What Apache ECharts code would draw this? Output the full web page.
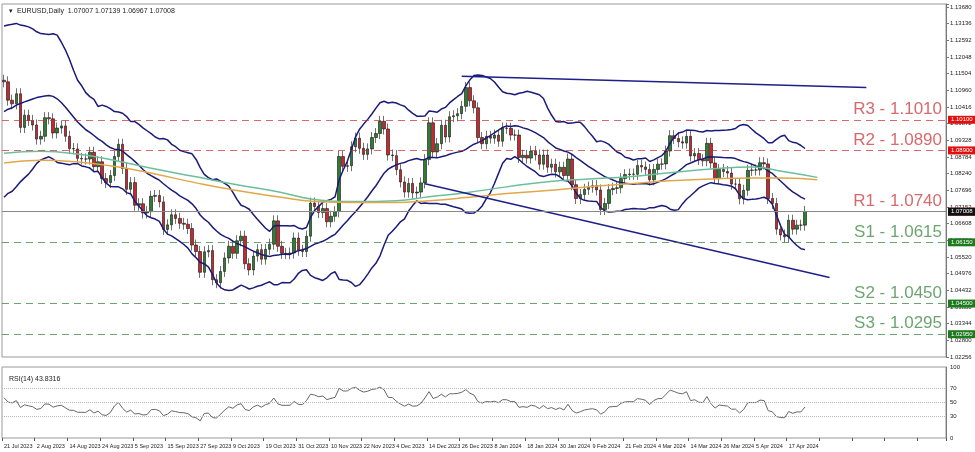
<!DOCTYPE html>
<html>
<head>
<meta charset="utf-8">
<script src="https://cdn.jsdelivr.net/npm/echarts@6/dist/echarts.min.js"></script>
<style>html,body{margin:0;padding:0;background:#fff}#chart{width:975px;height:452px}</style>
</head>
<body>
<div id="chart"></div>
<script>
// daily closes, 21 Jul 2023 .. 23 Apr 2024 (25 Dec has a bar, 1 Jan has none)
var closes = [
  1.1124,1.1064,1.1052,1.1085,1.0975,1.1015,1.0998,
  1.0983,1.0937,1.0946,1.1007,1.1003,1.0957,1.0973,1.0980,1.0946,1.0906,1.0905,1.0874,1.0872,1.0872,1.0894,1.0847,1.0863,1.0808,1.0795,1.0818,1.0880,1.0920,1.0841,
  1.0773,1.0795,1.0721,1.0726,1.0696,1.0700,1.0750,1.0753,1.0732,1.0642,1.0657,1.0690,1.0678,1.0662,1.0659,1.0645,1.0591,1.0570,1.0502,1.0569,1.0573,
  1.0478,1.0468,1.0505,1.0549,1.0587,1.0564,1.0605,1.0620,1.0530,1.0510,1.0555,1.0576,1.0545,1.0577,1.0594,1.0670,1.0587,1.0564,1.0563,1.0565,1.0614,1.0574,
  1.0570,1.0620,1.0728,1.0717,1.0697,1.0710,1.0667,1.0685,1.0700,1.0880,1.0848,1.0850,1.0912,1.0940,1.0907,1.0887,1.0905,1.0942,1.0955,1.0995,1.0970,1.0885,
  1.0883,1.0837,1.0797,1.0764,1.0792,1.0761,1.0764,1.0794,1.0870,1.0990,1.0895,1.0922,1.0982,1.0944,1.1010,1.1013,1.1020,1.1044,1.1105,1.1062,1.1039,
  1.0942,1.0922,1.0946,1.0940,1.0950,1.0930,1.0973,1.0972,1.0950,1.0950,1.0877,1.0884,1.0875,1.0897,1.0885,1.0855,1.0885,1.0845,1.0855,1.0830,1.0845,1.0818,
  1.0872,1.0788,1.0743,1.0756,1.0773,1.0780,1.0785,1.0771,1.0707,1.0727,1.0772,1.0776,1.0778,1.0808,1.0821,1.0823,1.0822,1.0851,1.0846,1.0838,1.0804,
  1.0838,1.0855,1.0856,1.0898,1.0948,1.0939,1.0928,1.0924,1.0946,1.0882,1.0890,1.0870,1.0866,1.0923,1.0859,1.0808,1.0838,1.0831,1.0826,1.0790,1.0790,
  1.0742,1.0770,1.0835,1.0836,1.0836,1.0860,1.0856,1.0743,1.0727,1.0643,1.0624,1.0618,1.0672,1.0643,1.0656,1.0656,1.0701
]
// closes before the first bar (22 Jun .. 20 Jul 2023), used for band / rsi warmup
var warmup = [1.0955,1.0894,1.0906,1.0960,1.0912,1.0866,1.0910,1.0910,1.0880,1.0850,1.0888,1.0968,1.0970,1.1008,1.1130,1.1227,1.1229,1.1238,1.1229,1.1200,1.1129]
var wick = 0.0018

// moving averages: [bar index, value]
var maGreen = [[0,1.0891],[9,1.0897],[18,1.0888],[28,1.0865],[37,1.0839],[47,1.0814],[57,1.0788],[67,1.0765],[76,1.0740],[86,1.0733],[96,1.0736],[104,1.0749],[113,1.0762],[123,1.0781],[133,1.0798],[143,1.0807],[153,1.0814],[163,1.0827],[173,1.0839],[183,1.0846],[191,1.0830],[199,1.0812]]
var maOrange = [[0,1.0859],[9,1.0868],[18,1.0862],[28,1.0846],[37,1.0823],[47,1.0794],[57,1.0769],[67,1.0749],[76,1.0733],[86,1.0730],[96,1.0730],[104,1.0736],[113,1.0746],[123,1.0759],[133,1.0769],[143,1.0781],[153,1.0791],[163,1.0801],[173,1.0807],[183,1.0810],[191,1.0810],[199,1.0804]]

var channelTop = [[112,1.1142],[211,1.1105]]
var channelBottom = [[103,1.0791],[202,1.0485]]

var resistances = [['R3',1.1010],['R2',1.0890],['R1',1.0740]]
var supports = [['S1',1.0615],['S2',1.0450],['S3',1.0295]]
var lastPrice = 1.07008

var months = ['Jan','Feb','Mar','Apr','May','Jun','Jul','Aug','Sep','Oct','Nov','Dec']
var dates = []
var d = new Date(2023,6,21)
while (dates.length < closes.length) {
  var wd = d.getDay()
  var hol = (d.getMonth()==0 && d.getDate()==1)
  if (wd!=0 && wd!=6 && !hol) dates.push(d.getDate()+' '+months[d.getMonth()]+' '+d.getFullYear())
  d.setDate(d.getDate()+1)
}
var cats = dates.slice()
for (var i=0;i<34;i++) cats.push('')

var all = warmup.concat(closes)
var W = warmup.length
var candles = closes.map(function(c,i){
  var o = all[W+i-1]
  return [o, c, Math.min(o,c)-wick, Math.max(o,c)+wick]
})
var up=[],mid=[],lo=[]
closes.forEach(function(c,i){
  var s = all.slice(W+i-19, W+i+1)
  var m = s.reduce(function(a,b){return a+b},0)/20
  var v = s.reduce(function(a,b){return a+(b-m)*(b-m)},0)/20
  var sd = Math.sqrt(v)
  mid.push(m); up.push(m+2*sd); lo.push(m-2*sd)
})
// rsi 14 (wilder)
var rsi=[], ag=0, al=0
for (var k=1;k<all.length;k++){
  var ch = all[k]-all[k-1]
  var g = Math.max(ch,0), l = Math.max(-ch,0)
  if (k<=14){ ag+=g/14; al+=l/14 } else { ag=(ag*13+g)/14; al=(al*13+l)/14 }
  if (k>=W) rsi.push(100-100/(1+ag/al))
}

var red='#c8282d', green='#2e7d32'
function levelLines(list,color,tag){
  var data=[]
  list.forEach(function(l){
    data.push({yAxis:l[1],lineStyle:{color:color,type:[7,5],width:1,opacity:0.7},
      label:{show:true,position:'insideEndTop',formatter:l[0]+' - '+l[1].toFixed(4),color:color,fontSize:17,fontFamily:'Liberation Sans',distance:[4,2]}})
    data.push({yAxis:l[1],lineStyle:{width:0,color:'rgba(0,0,0,0)'},
      label:{show:true,position:'end',formatter:l[1].toFixed(5),color:'#fff',backgroundColor:tag,fontSize:6,padding:[1,3],distance:2}})
  })
  return data
}

var chart = echarts.init(document.getElementById('chart'))
var option = {
  backgroundColor:'#fff',
  animation:false,
  title:[{text:'▾  EURUSD,Daily  1.07007 1.07139 1.06967 1.07008',left:4,top:3,textStyle:{fontSize:7,fontWeight:'normal',color:'#222'}},
         {text:'RSI(14) 43.8316',left:4,top:371,textStyle:{fontSize:7,fontWeight:'normal',color:'#222'}}],
  grid:[{left:2,right:29,top:4,height:353,show:true,borderColor:'#999',borderWidth:1},
        {left:2,right:29,top:367,height:71,show:true,borderColor:'#999',borderWidth:1}],
  xAxis:[
    {type:'category',data:cats,gridIndex:0,boundaryGap:true,axisLabel:{show:false},axisTick:{show:false},axisLine:{show:false},splitLine:{show:false}},
    {type:'category',data:cats,gridIndex:1,boundaryGap:true,axisLine:{show:false},
      axisTick:{show:true,interval:7,length:3,lineStyle:{color:'#555'}},
      axisLabel:{interval:7,fontSize:5.5,color:'#222',margin:5,align:'left'},splitLine:{show:false}}
  ],
  yAxis:[
    {type:'value',gridIndex:0,position:'right',min:1.02256,max:1.1378,interval:0.00544,scale:true,
      axisLine:{show:true,lineStyle:{color:'#777'}},axisTick:{show:true,length:3},
      axisLabel:{fontSize:6,color:'#222',margin:4,formatter:function(v){return v>1.1375?'':v.toFixed(5)}},splitLine:{show:false}},
    {type:'value',gridIndex:1,position:'right',min:0,max:100,interval:10,
      axisLine:{show:true,lineStyle:{color:'#777'}},axisTick:{show:false},
      axisLabel:{fontSize:6,color:'#222',margin:4,formatter:function(v){return [0,30,50,70,100].indexOf(v)>=0?v:''}},
      splitLine:{show:false}}
  ],
  series:[
    {type:'candlestick',data:candles,barWidth:3,
      itemStyle:{color:green,color0:red,borderColor:'#111',borderColor0:'#111',borderWidth:0.6},
      markLine:{symbol:'none',silent:true,data:levelLines(resistances,red,'#e01010').concat(levelLines(supports,green,'#1d7a1d')).concat([
        {yAxis:lastPrice,lineStyle:{color:'#888',type:'solid',width:1},label:{show:true,position:'end',formatter:'1.07008',color:'#fff',backgroundColor:'#111',fontSize:6,padding:[1,3],distance:2}}])}},
    {type:'line',data:up,showSymbol:false,lineStyle:{color:'#1a1a78',width:1.5}},
    {type:'line',data:mid,showSymbol:false,lineStyle:{color:'#1a1a78',width:1.5}},
    {type:'line',data:lo,showSymbol:false,lineStyle:{color:'#1a1a78',width:1.5}},
    {type:'line',data:maGreen,showSymbol:false,smooth:true,lineStyle:{color:'#6cbf9a',width:1.5}},
    {type:'line',data:maOrange,showSymbol:false,smooth:true,lineStyle:{color:'#e0a84a',width:1.5}},
    {type:'line',data:channelTop,showSymbol:false,lineStyle:{color:'#1f1f8a',width:1.5}},
    {type:'line',data:channelBottom,showSymbol:false,lineStyle:{color:'#1f1f8a',width:1.5}},
    {type:'line',xAxisIndex:1,yAxisIndex:1,data:rsi,showSymbol:false,lineStyle:{color:'#666',width:1},
      markLine:{symbol:'none',silent:true,label:{show:false},lineStyle:{color:'#bbb',type:'dotted',width:1},data:[{yAxis:70},{yAxis:50},{yAxis:30}]}}
  ]
}
chart.setOption(option)
</script>
</body>
</html>
